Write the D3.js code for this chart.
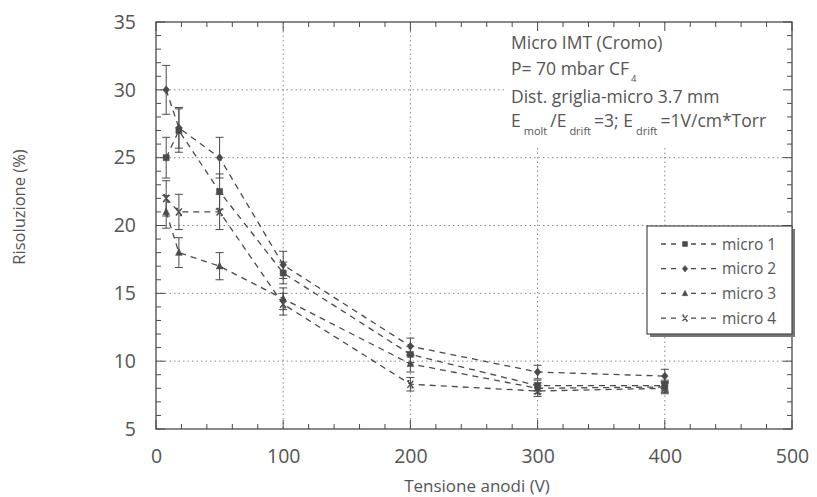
<!DOCTYPE html>
<html><head><meta charset="utf-8">
<script src="https://cdn.jsdelivr.net/npm/d3@7"></script>
<style>
html,body{margin:0;padding:0;background:#fff;}
svg text{font-family:"Open Sans","DejaVu Sans",sans-serif;fill:#555;}
</style></head>
<body><svg id="c" width="817" height="497"></svg>
<script>
// ---- data ----
const xValues = [8, 18, 50, 100, 200, 300, 400];
const seriesNames = ["micro 1", "micro 2", "micro 3", "micro 4"];
const micro1 = [25, 27, 22.5, 16.5, 10.5, 8.2, 8.2];
const micro1Err = [1.5, 1.6, 1.3, 0.8, 0.6, 0.4, 0.4];
const micro2 = [30, 27.2, 25, 17.1, 11.1, 9.2, 8.9];
const micro2Err = [1.8, 1.5, 1.5, 1.0, 0.6, 0.5, 0.5];
const micro3 = [21, 18, 17, 14.6, 9.8, 8.0, 8.1];
const micro3Err = [1.2, 1.1, 1.0, 0.8, 0.6, 0.4, 0.4];
const micro4 = [22, 21, 21, 14.2, 8.3, 7.8, 8.0];
const micro4Err = [1.3, 1.3, 1.3, 0.8, 0.5, 0.4, 0.4];
const xTicks = [0, 100, 200, 300, 400, 500];
const yTicks = [5, 10, 15, 20, 25, 30, 35];
const xTitle = "Tensione anodi (V)";
const yTitle = "Risoluzione (%)";

const series = [
  {name: seriesNames[0], y: micro1, e: micro1Err, sym: "square"},
  {name: seriesNames[1], y: micro2, e: micro2Err, sym: "diamond"},
  {name: seriesNames[2], y: micro3, e: micro3Err, sym: "triangle"},
  {name: seriesNames[3], y: micro4, e: micro4Err, sym: "bowtie"}
];

const L = 156, R = 792, T = 22, B = 429;
const x = d3.scaleLinear().domain([0, 500]).range([L, R]);
const y = d3.scaleLinear().domain([5, 35]).range([B, T]);
const svg = d3.select("#c");
const ink = "#4a4a4a";

// grid
const g = svg.append("g");
g.selectAll(".gx").data([100,200,300,400]).enter().append("line")
  .attr("x1", d=>x(d)).attr("x2", d=>x(d)).attr("y1", T).attr("y2", B)
  .attr("stroke", "#888").attr("stroke-width", 1).attr("stroke-dasharray", "1.5,3");
g.selectAll(".gy").data([10,15,20,25,30]).enter().append("line")
  .attr("y1", d=>y(d)).attr("y2", d=>y(d)).attr("x1", L).attr("x2", R)
  .attr("stroke", "#888").attr("stroke-width", 1).attr("stroke-dasharray", "1.5,3");

// annotation background
svg.append("rect").attr("x", 505).attr("y", T+2).attr("width", R-507).attr("height", 124).attr("fill", "#fff");

// inward ticks on all four sides
function minorX(){ return d3.range(0, 501, 20); }
function minorY(){ return d3.range(5, 36, 1); }
function drawTicks(){
  const t = svg.append("g").attr("stroke", ink).attr("stroke-width", 1);
  minorX().forEach(v=>{
    const len = (v % 100 === 0) ? 9 : 5;
    t.append("line").attr("x1", x(v)).attr("x2", x(v)).attr("y1", B).attr("y2", B-len);
    t.append("line").attr("x1", x(v)).attr("x2", x(v)).attr("y1", T).attr("y2", T+len);
  });
  minorY().forEach(v=>{
    const len = (v % 5 === 0) ? 9 : 5;
    t.append("line").attr("y1", y(v)).attr("y2", y(v)).attr("x1", L).attr("x2", L+len);
    t.append("line").attr("y1", y(v)).attr("y2", y(v)).attr("x1", R).attr("x2", R-len);
  });
}
drawTicks();
svg.append("rect").attr("x", L).attr("y", T).attr("width", R-L).attr("height", B-T)
  .attr("fill", "none").attr("stroke", ink).attr("stroke-width", 1.3);

// tick labels via d3 axes (no lines)
const xa = svg.append("g").attr("transform", `translate(0,${B})`)
  .call(d3.axisBottom(x).tickValues(xTicks).tickSize(0).tickPadding(20));
const ya = svg.append("g").attr("transform", `translate(${L},0)`)
  .call(d3.axisLeft(y).tickValues(yTicks).tickSize(0).tickPadding(20));
[xa, ya].forEach(a=>{ a.select(".domain").remove(); a.selectAll("text").attr("font-size", 19.5).attr("fill", "#555").attr("font-family", "Open Sans, DejaVu Sans, sans-serif"); });

svg.append("text").attr("x", 477).attr("y", 492).attr("text-anchor", "middle").attr("font-size", 17).text(xTitle);
svg.append("text").attr("transform", "translate(25,207) rotate(-90)").attr("text-anchor", "middle").attr("font-size", 16.5).text(yTitle);

// symbols
function symPath(type, s){
  if (type === "square") return `M${-s},${-s}H${s}V${s}H${-s}Z`;
  if (type === "diamond") return `M0,${-s*1.3}L${s*1.1},0L0,${s*1.3}L${-s*1.1},0Z`;
  if (type === "triangle") return `M0,${-s*1.3}L${s*1.1},${s*0.9}L${-s*1.1},${s*0.9}Z`;
  return `M${-s},${-s*1.2}L${s},${s*1.2}M${s},${-s*1.2}L${-s},${s*1.2}M${-s},${-s*1.2}H${-s*0.3}M${s*0.3},${s*1.2}H${s}`;
}

const line = d3.line().x(d=>x(d[0])).y(d=>y(d[1]));
series.forEach(s=>{
  const pts = xValues.map((xv,i)=>[xv, s.y[i], s.e[i]]);
  svg.append("path").attr("d", line(pts)).attr("fill", "none").attr("stroke", ink)
    .attr("stroke-width", 1.3).attr("stroke-dasharray", "6,5");
  const eg = svg.append("g").attr("stroke", ink).attr("stroke-width", 1);
  pts.forEach(p=>{
    eg.append("line").attr("x1", x(p[0])).attr("x2", x(p[0])).attr("y1", y(p[1]-p[2])).attr("y2", y(p[1]+p[2]));
    [p[1]-p[2], p[1]+p[2]].forEach(v=>eg.append("line").attr("x1", x(p[0])-4).attr("x2", x(p[0])+4).attr("y1", y(v)).attr("y2", y(v)));
  });
  pts.forEach(p=>{
    svg.append("path").attr("d", symPath(s.sym, 3)).attr("transform", `translate(${x(p[0])},${y(p[1])})`)
      .attr("fill", s.sym === "bowtie" ? "none" : ink).attr("stroke", ink).attr("stroke-width", s.sym === "bowtie" ? 1.4 : 0.6);
  });
});

// annotation text
const ann = svg.append("g").attr("font-size", 17.5);
ann.append("text").attr("x", 511).attr("y", 49).text("Micro IMT (Cromo)");
ann.append("text").attr("x", 511).attr("y", 75).text("P= 70 mbar CF");
ann.append("text").attr("x", 631).attr("y", 82).attr("font-size", 9.5).text("4");
ann.append("text").attr("x", 511).attr("y", 103).text("Dist. griglia-micro 3.7 mm");
const t4 = ann.append("text").attr("x", 511).attr("y", 127);
t4.append("tspan").text("E");
t4.append("tspan").attr("dy", 8).attr("dx", 3).attr("font-size", 11).text("molt");
t4.append("tspan").attr("dy", -8).attr("dx", 3).text("/E");
t4.append("tspan").attr("dy", 8).attr("dx", 3).attr("font-size", 11).text("drift");
t4.append("tspan").attr("dy", -8).attr("dx", 3).text("=3; E");
t4.append("tspan").attr("dy", 8).attr("dx", 3).attr("font-size", 11).text("drift");
t4.append("tspan").attr("dy", -8).attr("dx", 3).text("=1V/cm*Torr");

// legend
const lg = svg.append("g");
lg.append("rect").attr("x", 650).attr("y", 229).attr("width", 145).attr("height", 108).attr("fill", "#777");
lg.append("rect").attr("x", 647).attr("y", 226).attr("width", 145).attr("height", 108).attr("fill", "#fff").attr("stroke", ink).attr("stroke-width", 1.2);
series.forEach((s,i)=>{
  const yy = 244 + i*24.7;
  lg.append("line").attr("x1", 661).attr("x2", 717).attr("y1", yy).attr("y2", yy)
    .attr("stroke", ink).attr("stroke-width", 1.3).attr("stroke-dasharray", "5,5");
  lg.append("rect").attr("x", 679).attr("y", yy-5).attr("width", 12).attr("height", 10).attr("fill", "#fff");
  lg.append("path").attr("d", symPath(s.sym, 2.5)).attr("transform", `translate(685,${yy})`)
    .attr("fill", s.sym === "bowtie" ? "none" : ink).attr("stroke", ink).attr("stroke-width", s.sym === "bowtie" ? 1.2 : 0.5);
  lg.append("text").attr("x", 722).attr("y", yy+5.5).attr("font-size", 15.5).text(s.name);
});
</script></body></html>
